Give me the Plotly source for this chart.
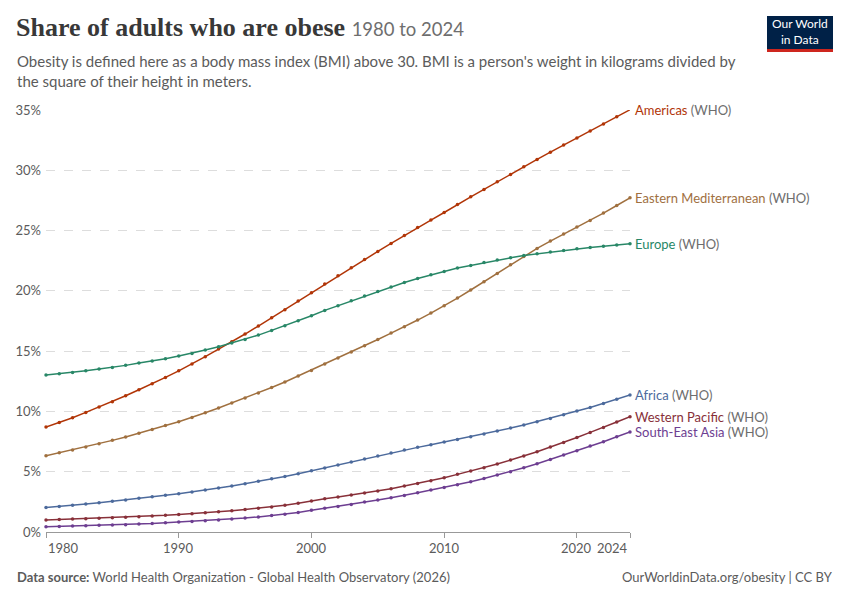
import plotly.graph_objects as go

# Share of adults who are obese (BMI > 30), WHO regions, percent
years = list(range(1980, 2025))

americas = [8.71, 9.09, 9.48, 9.92, 10.36, 10.8, 11.3, 11.8, 12.3, 12.82,
            13.37, 13.93, 14.54, 15.17, 15.78, 16.42, 17.08, 17.77, 18.43, 19.15,
            19.84, 20.56, 21.25, 21.92, 22.6, 23.27, 23.93, 24.6, 25.26, 25.87,
            26.5, 27.17, 27.8, 28.41, 29.05, 29.65, 30.29, 30.9, 31.5, 32.09,
            32.67, 33.25, 33.83, 34.44, 35.02]
eastern_med = [6.33, 6.58, 6.8, 7.05, 7.32, 7.6, 7.88, 8.18, 8.51, 8.84,
               9.15, 9.5, 9.89, 10.28, 10.7, 11.11, 11.53, 11.99, 12.44, 12.94,
               13.4, 13.93, 14.43, 14.92, 15.45, 15.97, 16.5, 17.02, 17.58, 18.16,
               18.76, 19.4, 20.07, 20.75, 21.44, 22.16, 22.85, 23.52, 24.13, 24.71,
               25.29, 25.84, 26.45, 27.08, 27.72]
europe = [13.02, 13.12, 13.23, 13.37, 13.51, 13.65, 13.82, 14.01, 14.18, 14.37,
          14.59, 14.81, 15.09, 15.37, 15.67, 15.97, 16.33, 16.72, 17.11, 17.52,
          17.94, 18.38, 18.77, 19.18, 19.57, 19.95, 20.31, 20.7, 21.03, 21.34,
          21.61, 21.89, 22.11, 22.36, 22.55, 22.74, 22.94, 23.08, 23.22, 23.35,
          23.49, 23.6, 23.71, 23.8, 23.91]
africa = [2.04, 2.12, 2.21, 2.32, 2.43, 2.54, 2.65, 2.79, 2.93, 3.04,
          3.18, 3.32, 3.48, 3.65, 3.81, 4.0, 4.2, 4.42, 4.61, 4.83,
          5.08, 5.3, 5.55, 5.8, 6.05, 6.3, 6.55, 6.8, 7.02, 7.24,
          7.46, 7.68, 7.9, 8.12, 8.37, 8.62, 8.87, 9.15, 9.42, 9.73,
          10.03, 10.33, 10.66, 11.0, 11.36]
western_pacific = [0.99, 1.03, 1.07, 1.1, 1.14, 1.18, 1.22, 1.27, 1.32, 1.38,
                   1.45, 1.52, 1.6, 1.68, 1.77, 1.87, 1.97, 2.08, 2.21, 2.38,
                   2.58, 2.76, 2.9, 3.07, 3.23, 3.4, 3.59, 3.81, 4.03, 4.25,
                   4.5, 4.78, 5.06, 5.33, 5.64, 5.97, 6.3, 6.66, 7.05, 7.43,
                   7.84, 8.26, 8.67, 9.12, 9.56]
se_asia = [0.43, 0.46, 0.49, 0.52, 0.55, 0.58, 0.61, 0.66, 0.71, 0.77,
           0.83, 0.88, 0.94, 1.0, 1.08, 1.16, 1.25, 1.36, 1.48, 1.62,
           1.8, 1.96, 2.12, 2.29, 2.49, 2.65, 2.84, 3.03, 3.26, 3.48,
           3.7, 3.92, 4.17, 4.44, 4.73, 5.0, 5.33, 5.66, 6.02, 6.38,
           6.74, 7.13, 7.49, 7.9, 8.29]

region_names = ["Americas", "Eastern Mediterranean", "Europe", "Africa",
                "Western Pacific", "South-East Asia"]
series = [americas, eastern_med, europe, africa, western_pacific, se_asia]
colors = ["#B13507", "#A0703F", "#288767", "#4C6A9C", "#883039", "#6D3E91"]

x_tick_years = [1980, 1990, 2000, 2010, 2020, 2024]
y_tick_values = [0, 5, 10, 15, 20, 25, 30, 35]

W, H = 850, 600
L, R, T, B = 46, 220, 110, 68
Y_MAX = 35


def px(x):
    # pixel column -> paper x
    return (x - L) / (W - L - R)


def py(y):
    # pixel row -> paper y
    return 1 - (y - T) / (H - T - B)


fig = go.Figure()

for name, vals, col in zip(region_names, series, colors):
    fig.add_trace(go.Scatter(
        x=years, y=vals, mode="lines+markers", name=name,
        line=dict(color=col, width=1.5),
        marker=dict(color=col, size=3.5),
        cliponaxis=False,
        hovertemplate="%{y:.1f}%<extra>" + name + "</extra>",
    ))

annotations = []

# end-of-line labels (kept inside the axis range so plotly shows them)
for name, vals, col in zip(region_names, series, colors):
    annotations.append(dict(
        x=years[-1], y=min(vals[-1], Y_MAX), xref="x", yref="y",
        text=f'<span style="color:{col}">{name}</span> (WHO)',
        showarrow=False, xanchor="left", yanchor="middle", xshift=3,
        font=dict(family="Lato", size=13, color="#6e6e6e"),
    ))

# x tick labels (first left aligned, last right aligned like OWID)
for i, yr in enumerate(x_tick_years):
    anchor = "center"
    if i == 0:
        anchor = "left"
    elif i == len(x_tick_years) - 1:
        anchor = "right"
    annotations.append(dict(
        x=yr, y=0, xref="x", yref="y", text=str(yr), showarrow=False,
        xanchor=anchor, yanchor="top", yshift=-6,
        font=dict(family="Lato", size=13, color="#5b5b5b"),
    ))

# header
annotations.append(dict(
    x=px(14), y=py(44), xref="paper", yref="paper", xanchor="left", yanchor="bottom",
    showarrow=False,
    text='<b>Share of adults who are obese</b> <span style="font-family:Lato;font-size:18.5px;color:#6e6e6e">1980 to 2024</span>',
    font=dict(family="Liberation Serif", size=26, color="#383838"),
))
annotations.append(dict(
    x=px(15), y=py(50), xref="paper", yref="paper", xanchor="left", yanchor="top",
    showarrow=False, align="left",
    text="Obesity is defined here as a body mass index (BMI) above 30. BMI is a person's weight in kilograms divided by<br>the square of their height in meters.",
    font=dict(family="Lato", size=15, color="#5b5b5b"),
))

# footer
annotations.append(dict(
    x=px(15), y=py(577), xref="paper", yref="paper", xanchor="left", yanchor="middle",
    showarrow=False,
    text="<b>Data source:</b> World Health Organization - Global Health Observatory (2026)",
    font=dict(family="Lato", size=13, color="#5b5b5b"),
))
annotations.append(dict(
    x=px(835), y=py(577), xref="paper", yref="paper", xanchor="right", yanchor="middle",
    showarrow=False,
    text="OurWorldinData.org/obesity | CC BY",
    font=dict(family="Lato", size=13, color="#5b5b5b"),
))

# logo
annotations.append(dict(
    x=px(800), y=py(32), xref="paper", yref="paper", xanchor="center", yanchor="middle",
    showarrow=False, text="Our World<br>in Data", align="center",
    font=dict(family="Lato", size=12, color="white"),
))

shapes = [
    dict(type="rect", xref="paper", yref="paper", x0=px(767), x1=px(833),
         y0=py(16), y1=py(49), fillcolor="#002147", line=dict(width=0), layer="above"),
    dict(type="rect", xref="paper", yref="paper", x0=px(767), x1=px(833),
         y0=py(49), y1=py(52), fillcolor="#CE261E", line=dict(width=0), layer="above"),
]

fig.update_layout(
    width=W, height=H,
    margin=dict(l=L, r=R, t=T, b=B, autoexpand=False),
    paper_bgcolor="white", plot_bgcolor="white",
    showlegend=False,
    annotations=annotations,
    shapes=shapes,
    font=dict(family="Lato", color="#5b5b5b"),
)
fig.update_xaxes(
    range=[1980, 2024], tickvals=x_tick_years, showticklabels=False,
    ticks="outside", ticklen=5, tickcolor="#999999",
    showgrid=False, zeroline=False,
    showline=True, linecolor="#999999", linewidth=1,
)
fig.update_yaxes(
    range=[0, Y_MAX], tickvals=y_tick_values,
    ticktext=[f"{v}%" for v in y_tick_values],
    tickfont=dict(family="Lato", size=13, color="#5b5b5b"),
    showgrid=True, gridcolor="#dddddd", griddash="dash", gridwidth=1,
    zeroline=False, showline=False, ticks="", ticklabelstandoff=4,
)

# drop the default 8px body margin so the chart sits flush with the window
fig.write_html("out.html", config={"displayModeBar": False},
               post_script="document.body.style.margin='0';")
